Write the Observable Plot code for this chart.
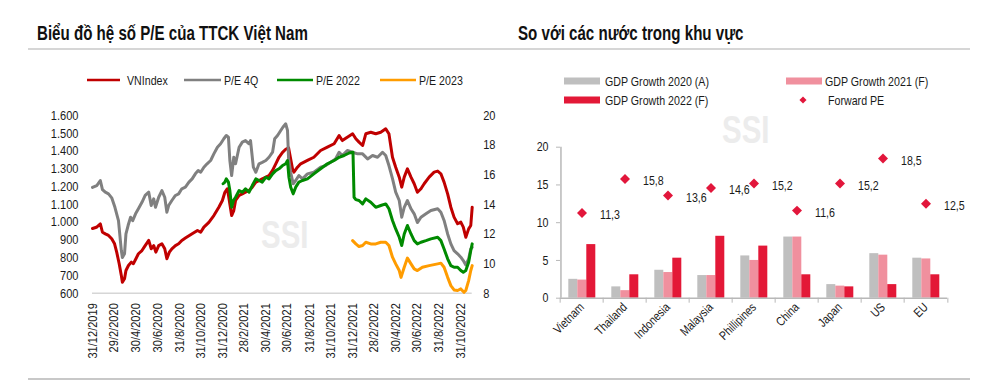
<!DOCTYPE html>
<html><head><meta charset="utf-8">
<script src="https://cdn.jsdelivr.net/npm/d3@7"></script>
<script src="https://cdn.jsdelivr.net/npm/@observablehq/plot@0.6"></script>
<style>
html,body{margin:0;padding:0;background:#fff;}
#root{position:relative;width:1000px;height:381px;overflow:hidden;font-family:"Liberation Sans",Arial,sans-serif;color:#1a1a1a;}
#root svg{position:absolute;}
</style></head><body><div id="root"></div>
<script>
// ---------- Left chart data ----------
const vnindex = [["2019-12-31",964],["2020-01-11",971],["2020-01-22",990],["2020-01-28",943],["2020-02-05",934],["2020-02-14",925],["2020-02-23",906],["2020-03-02",878],["2020-03-08",831],["2020-03-15",766],["2020-03-21",700],["2020-03-24",662],["2020-03-30",681],["2020-04-03",728],["2020-04-10",756],["2020-04-18",775],["2020-04-24",766],["2020-05-01",794],["2020-05-08",822],["2020-05-18",840],["2020-05-27",868],["2020-06-06",897],["2020-06-13",850],["2020-06-20",868],["2020-06-26",831],["2020-07-04",868],["2020-07-13",878],["2020-07-21",850],["2020-07-27",794],["2020-08-03",831],["2020-08-10",850],["2020-08-20",868],["2020-08-29",878],["2020-09-07",897],["2020-09-17",910],["2020-10-06",934],["2020-10-21",953],["2020-10-30",943],["2020-11-08",972],["2020-11-22",999],["2020-12-06",1037],["2020-12-20",1084],["2020-12-30",1122],["2021-01-06",1168],["2021-01-13",1188],["2021-01-17",1140],["2021-01-25",1037],["2021-01-31",1065],["2021-02-05",1122],["2021-02-15",1150],["2021-02-24",1159],["2021-03-05",1168],["2021-03-15",1178],["2021-03-24",1197],["2021-04-03",1225],["2021-04-12",1234],["2021-04-21",1244],["2021-05-01",1253],["2021-05-10",1262],["2021-05-20",1291],["2021-05-29",1328],["2021-06-07",1365],["2021-06-17",1393],["2021-06-26",1410],["2021-07-04",1418],["2021-07-15",1300],["2021-07-19",1281],["2021-07-29",1309],["2021-08-07",1328],["2021-08-26",1347],["2021-09-13",1365],["2021-10-02",1403],["2021-10-21",1422],["2021-11-09",1441],["2021-11-23",1487],["2021-12-02",1459],["2021-12-16",1478],["2021-12-31",1497],["2022-01-09",1469],["2022-01-18",1450],["2022-01-28",1431],["2022-02-06",1497],["2022-02-20",1506],["2022-03-06",1497],["2022-03-20",1506],["2022-04-03",1525],["2022-04-12",1497],["2022-04-22",1365],["2022-05-01",1309],["2022-05-11",1253],["2022-05-18",1197],["2022-05-25",1253],["2022-06-03",1300],["2022-06-13",1253],["2022-06-22",1216],["2022-07-01",1168],["2022-07-11",1188],["2022-07-20",1216],["2022-08-03",1253],["2022-08-17",1281],["2022-08-27",1287],["2022-09-05",1272],["2022-09-14",1225],["2022-09-24",1159],["2022-10-03",1084],["2022-10-12",1028],["2022-10-22",991],["2022-10-31",1000],["2022-11-07",972],["2022-11-14",915],["2022-11-22",962],["2022-11-28",981],["2022-12-02",1084]];
const pe4q = [["2019-12-31",15.14],["2020-01-12",15.27],["2020-01-22",15.61],["2020-01-28",15.0],["2020-02-05",14.82],["2020-02-14",14.71],["2020-02-23",14.44],["2020-03-03",13.8],["2020-03-13",12.9],["2020-03-21",10.88],["2020-03-24",10.41],["2020-03-30",10.66],["2020-04-03",12.0],["2020-04-09",12.57],["2020-04-16",13.13],["2020-04-22",12.9],["2020-04-30",13.36],["2020-05-08",13.7],["2020-05-18",14.14],["2020-05-27",14.6],["2020-06-06",14.82],["2020-06-13",13.92],["2020-06-20",14.37],["2020-06-25",13.8],["2020-07-04",14.48],["2020-07-13",14.93],["2020-07-21",14.48],["2020-07-27",13.47],["2020-08-01",13.92],["2020-08-10",14.26],["2020-08-20",14.6],["2020-08-29",14.71],["2020-09-07",15.05],["2020-09-17",15.16],["2020-09-27",15.5],["2020-10-06",15.72],["2020-10-15",16.06],["2020-10-23",16.28],["2020-10-30",16.17],["2020-11-08",16.51],["2020-11-17",16.74],["2020-11-27",16.96],["2020-12-06",17.41],["2020-12-16",17.86],["2020-12-25",18.09],["2021-01-03",18.43],["2021-01-10",18.65],["2021-01-16",18.54],["2021-01-20",16.96],["2021-01-25",15.95],["2021-01-31",17.18],["2021-02-05",16.74],["2021-02-15",17.86],["2021-02-24",18.2],["2021-03-05",18.31],["2021-03-15",18.09],["2021-03-19",18.31],["2021-03-27",16.51],["2021-04-03",16.17],["2021-04-12",16.74],["2021-04-21",16.84],["2021-05-01",16.96],["2021-05-10",17.18],["2021-05-20",17.52],["2021-05-26",18.43],["2021-06-03",18.65],["2021-06-12",18.99],["2021-06-18",19.21],["2021-06-26",19.44],["2021-07-01",18.99],["2021-07-04",17.09],["2021-07-10",16.15],["2021-07-17",15.39],["2021-07-24",15.61],["2021-08-02",15.95],["2021-08-12",15.72],["2021-08-26",16.06],["2021-09-13",16.17],["2021-10-02",16.51],["2021-10-16",16.62],["2021-10-30",16.84],["2021-11-13",17.07],["2021-11-23",17.52],["2021-12-02",17.3],["2021-12-16",17.64],["2021-12-31",17.52],["2022-01-14",17.41],["2022-01-28",17.41],["2022-02-11",17.07],["2022-02-25",17.3],["2022-03-11",17.18],["2022-03-25",17.52],["2022-04-03",17.3],["2022-04-12",16.62],["2022-04-22",15.74],["2022-05-01",14.82],["2022-05-11",14.26],["2022-05-18",13.13],["2022-05-25",13.8],["2022-06-03",14.26],["2022-06-13",13.7],["2022-06-22",13.36],["2022-07-01",12.77],["2022-07-11",13.13],["2022-07-25",13.36],["2022-08-08",13.58],["2022-08-27",13.7],["2022-09-05",13.47],["2022-09-14",12.91],["2022-09-24",12.0],["2022-10-03",11.33],["2022-10-12",10.88],["2022-10-22",10.66],["2022-10-31",10.43],["2022-11-07",10.2],["2022-11-14",9.91],["2022-11-22",10.32],["2022-11-28",10.99],["2022-12-02",11.1]];
const pe2022 = [["2021-01-01",15.39],["2021-01-06",15.5],["2021-01-10",15.72],["2021-01-16",15.5],["2021-01-20",14.93],["2021-01-25",13.8],["2021-01-30",14.26],["2021-02-05",14.48],["2021-02-15",14.93],["2021-02-24",14.82],["2021-03-05",15.05],["2021-03-15",14.82],["2021-03-24",15.27],["2021-04-03",15.72],["2021-04-12",15.61],["2021-04-21",15.5],["2021-05-01",15.83],["2021-05-10",15.72],["2021-05-20",16.06],["2021-05-29",16.28],["2021-06-07",16.4],["2021-06-17",16.62],["2021-06-26",16.74],["2021-07-01",16.96],["2021-07-05",15.83],["2021-07-10",15.16],["2021-07-17",14.71],["2021-07-24",15.16],["2021-08-02",15.5],["2021-08-12",15.61],["2021-08-26",15.72],["2021-09-13",16.06],["2021-10-02",16.4],["2021-10-21",16.74],["2021-11-09",16.96],["2021-11-23",17.18],["2021-12-07",17.3],["2021-12-21",17.47],["2022-01-01",17.52],["2022-01-04",14.48],["2022-01-09",14.32],["2022-01-18",14.26],["2022-01-28",14.03],["2022-02-06",14.37],["2022-02-20",14.14],["2022-03-06",13.8],["2022-03-20",13.92],["2022-04-03",14.03],["2022-04-12",13.7],["2022-04-22",12.91],["2022-05-01",12.34],["2022-05-11",11.78],["2022-05-18",11.22],["2022-05-25",12.0],["2022-06-03",12.57],["2022-06-13",12.0],["2022-06-22",11.55],["2022-07-01",11.33],["2022-07-11",11.44],["2022-07-25",11.55],["2022-08-08",11.67],["2022-08-27",11.78],["2022-09-05",11.55],["2022-09-14",10.99],["2022-09-24",10.32],["2022-10-03",9.86],["2022-10-12",9.75],["2022-10-22",9.75],["2022-10-31",9.53],["2022-11-07",9.41],["2022-11-14",9.53],["2022-11-22",10.09],["2022-11-28",10.88],["2022-12-02",11.33]];
const pe2023 = [["2021-12-31",11.55],["2022-01-09",11.33],["2022-01-18",11.15],["2022-01-28",11.22],["2022-02-06",11.44],["2022-02-20",11.33],["2022-03-06",11.33],["2022-03-20",11.44],["2022-04-03",11.44],["2022-04-12",11.22],["2022-04-22",10.43],["2022-05-01",9.98],["2022-05-11",9.53],["2022-05-16",9.07],["2022-05-25",9.75],["2022-06-03",10.37],["2022-06-13",9.98],["2022-06-22",9.64],["2022-07-01",9.53],["2022-07-15",9.75],["2022-08-03",9.86],["2022-08-27",9.98],["2022-09-05",10.03],["2022-09-14",9.75],["2022-09-24",9.07],["2022-10-03",8.51],["2022-10-12",8.22],["2022-10-22",8.18],["2022-10-31",8.29],["2022-11-09",8.06],["2022-11-14",8.18],["2022-11-22",8.85],["2022-11-28",9.53],["2022-12-02",9.86]];
const lineSeries = ["VNIndex", "P/E 4Q", "P/E 2022", "P/E 2023"];
const lineColors = ["#c00000", "#808080", "#008a00", "#ff9c00"];
const leftDomain = [600, 1600];
const rightDomain = [8, 20];
const leftTicks = [600, 700, 800, 900, 1000, 1100, 1200, 1300, 1400, 1500, 1600];
const peTicks = [8, 10, 12, 14, 16, 18, 20];
const xDomain = ["2019-12-31", "2022-12-02"];
const xTickDates = ["2019-12-31","2020-02-29","2020-04-30","2020-06-30","2020-08-31","2020-10-31","2020-12-31","2021-02-28","2021-04-30","2021-06-30","2021-08-31","2021-10-31","2021-12-31","2022-02-28","2022-04-30","2022-06-30","2022-08-31","2022-10-31"];

// ---------- Right chart data ----------
const countries = ["Vietnam", "Thailand", "Indonesia", "Malaysia", "Phillipines", "China", "Japan", "US", "EU"];
const gdp2020 = [2.5, 1.5, 3.7, 3.0, 5.6, 8.1, 1.8, 5.9, 5.3];
const gdp2021 = [2.4, 1.0, 3.4, 3.0, 5.0, 8.1, 1.6, 5.7, 5.2];
const gdp2022 = [7.1, 3.1, 5.3, 8.2, 6.9, 3.1, 1.5, 1.8, 3.1];
const forwardPE = [11.3, 15.8, 13.6, 14.6, 15.2, 11.6, 15.2, 18.5, 12.5];
const barSeries = ["GDP Growth 2020 (A)", "GDP Growth 2021 (F)", "GDP Growth 2022 (F)"];
const barColors = ["#bfbfbf", "#f0909e", "#e31837"];
const peName = "Forward PE";
const peColor = "#e2163b";
const rightTicks = [0, 5, 10, 15, 20];

const titles = ["Biểu đồ hệ số P/E của TTCK Việt Nam", "So với các nước trong khu vực"];

// ---------- helpers ----------
const NARROW = 0.82;       // horizontal compression to mimic a narrow sans face
const NARROW_BOLD = 0.775;
const parse = d3.utcParse("%Y-%m-%d");
const toLeft = v => leftDomain[0] + (v - rightDomain[0]) * (leftDomain[1] - leftDomain[0]) / (rightDomain[1] - rightDomain[0]);
const fromLeft = v => rightDomain[0] + (v - leftDomain[0]) * (rightDomain[1] - rightDomain[0]) / (leftDomain[1] - leftDomain[0]);
const fmtDot = d3.formatLocale({decimal: ",", thousands: ".", grouping: [3], currency: ["", ""]}).format(",");
const fmtComma = v => v.toFixed(1).replace(".", ",");
const FONT = '"Liberation Sans",Arial,sans-serif';
const root = document.getElementById("root");
function narrowTexts(svg) {
  svg.querySelectorAll("text").forEach(t => {
    const tr = t.getAttribute("transform") || "";
    t.setAttribute("transform", tr + ` scale(${NARROW},1)`);
  });
}

// ---------- background layer: titles, rules, legends, watermarks ----------
const bg = d3.select(root).append("svg").attr("width", 1000).attr("height", 381)
  .style("left", "0px").style("top", "0px").style("font-family", FONT);
function label(x, y, str, size, opts = {}) {
  const t = bg.append("text").attr("transform", `translate(${x},${y}) scale(${opts.bold ? NARROW_BOLD : NARROW},1)`)
    .attr("font-size", size).attr("fill", opts.fill || "#1a1a1a").text(str);
  if (opts.bold) t.attr("font-weight", "bold");
  return t;
}
label(261, 248, "SSI", 38, {bold: true, fill: "#ececec"});
label(722, 143, "SSI", 38, {bold: true, fill: "#ececec"});
bg.append("line").attr("x1", 28).attr("x2", 970).attr("y1", 49).attr("y2", 49).attr("stroke", "#c8c8c8").attr("stroke-width", 1.5);
bg.append("line").attr("x1", 28).attr("x2", 970).attr("y1", 379).attr("y2", 379).attr("stroke", "#c8c8c8").attr("stroke-width", 2);
[37, 518].forEach((x, i) => label(x, 39.5, titles[i], 19.5, {bold: true, fill: "#111"}));
// left legend
const leftLegendPos = [[87, 120, 127], [184, 221, 224], [277, 313, 316], [380, 416, 419]];
lineSeries.forEach((s, i) => {
  const [a, b, t] = leftLegendPos[i];
  bg.append("line").attr("x1", a).attr("x2", b).attr("y1", 80).attr("y2", 80).attr("stroke", lineColors[i]).attr("stroke-width", 2.5);
  label(t, 84.5, s, 13);
});
// right legend
const rightLegendPos = [[564, 605, 81], [786, 825, 81], [564, 605, 100]];
barSeries.forEach((s, i) => {
  const [a, t, y] = rightLegendPos[i];
  bg.append("rect").attr("x", a).attr("y", y - 3.5).attr("width", 36).attr("height", 7).attr("fill", barColors[i]);
  label(t, y + 4.7, s, 13);
});
bg.append("path").attr("d", d3.symbol(d3.symbolDiamond2, 32)()).attr("transform", "translate(803,100)").attr("fill", peColor);
label(828, 104.7, peName, 13);

// ---------- left chart ----------
const lineData = [vnindex, pe4q, pe2022, pe2023];
const left = Plot.plot({
  width: 500, height: 270,
  marginLeft: 92, marginRight: 28.3, marginTop: 15, marginBottom: 77.3,
  style: {fontFamily: FONT, fontSize: "13.5px", background: "transparent", overflow: "visible", color: "#1a1a1a"},
  x: {type: "utc", domain: xDomain.map(parse)},
  y: {domain: leftDomain},
  marks: [
    Plot.ruleY([leftDomain[0]], {stroke: "#d6d6d6", strokeWidth: 1.5}),
    Plot.axisY({ticks: leftTicks, tickFormat: fmtDot, tickSize: 0, tickPadding: 14, label: null}),
    Plot.axisY({anchor: "right", ticks: peTicks.map(toLeft), tickFormat: v => String(Math.round(fromLeft(v))), tickSize: 0, tickPadding: 11, label: null}),
    Plot.axisX({ticks: xTickDates.map(parse), tickFormat: d3.utcFormat("%-d/%-m/%Y"), tickRotate: -90, tickSize: 0, tickPadding: 10, label: null}),
    ...lineData.map((data, i) => Plot.line(data, {
      x: d => parse(d[0]),
      y: d => i === 0 ? d[1] : toLeft(d[1]),
      stroke: lineColors[i], strokeWidth: 3, strokeLinejoin: "round"
    }))
  ]
});
narrowTexts(left);
left.style.left = "0px"; left.style.top = "100px";
root.appendChild(left);

// ---------- right chart ----------
const barData = countries.flatMap((c, i) => [gdp2020[i], gdp2021[i], gdp2022[i]].map((v, j) => ({country: c, series: barSeries[j], value: v})));
const peData = countries.map((c, i) => ({country: c, pe: forwardPE[i]}));
const RW = 500, RML = 56.7, RMR = 50, PAD_OUT = 0.8;
const bw = (RW - RML - RMR) / countries.length;          // facet band width
const step = bw / (barSeries.length + 2 * PAD_OUT);       // bar width
const right = Plot.plot({
  width: RW, height: 250,
  marginLeft: RML, marginRight: RMR, marginTop: 16.7, marginBottom: 82.3,
  style: {fontFamily: FONT, fontSize: "13px", background: "transparent", overflow: "visible", color: "#1a1a1a"},
  fx: {domain: countries, padding: 0, label: null},
  x: {domain: barSeries, paddingInner: 0, paddingOuter: PAD_OUT, axis: null},
  y: {domain: [0, 20], label: null},
  color: {domain: barSeries, range: barColors},
  marks: [
    Plot.barY(barData, {fx: "country", x: "series", y: "value", fill: "series"}),
    Plot.ruleY([0], {stroke: "#b8b8b8", strokeWidth: 1.5}),
    // vertical value axis line at the left edge of the first category
    Plot.ruleX([countries[0]], {fx: d => d, x: () => barSeries[0], y1: 0, y2: 20, dx: -(PAD_OUT + 0.5) * step, stroke: "#b8b8b8", strokeWidth: 1.5}),
    Plot.axisY({ticks: rightTicks, tickSize: 4, tickPadding: 8, stroke: "#b8b8b8", label: null}),
    Plot.axisFx({anchor: "bottom", tickSize: 5, dx: -bw / 2, tickFormat: () => "", stroke: "#b8b8b8", label: null}),
    Plot.axisFx({anchor: "bottom", ticks: [countries[countries.length - 1]], tickSize: 5, dx: bw / 2, tickFormat: () => "", stroke: "#b8b8b8", label: null}),
    Plot.axisFx({anchor: "bottom", tickRotate: -45, tickSize: 0, tickPadding: 7, fontSize: 12.5, label: null}),
    Plot.dot(peData, {fx: "country", y: "pe", symbol: "diamond2", r: 4.5, fill: peColor}),
    Plot.text(peData, {fx: "country", y: "pe", text: d => fmtComma(d.pe), dx: 18, dy: 2, textAnchor: "start", fontSize: 13, fill: "#1a1a1a"})
  ]
});
narrowTexts(right);
right.style.left = "500px"; right.style.top = "130px";
root.appendChild(right);
</script></body></html>
